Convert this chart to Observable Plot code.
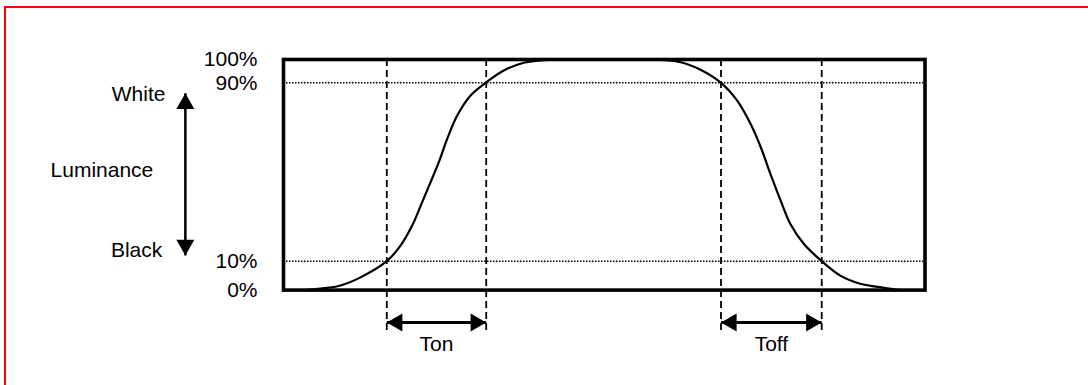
<!DOCTYPE html>
<html><head><meta charset="utf-8">
<script src="https://cdn.jsdelivr.net/npm/d3@7"></script>
<script src="https://cdn.jsdelivr.net/npm/@observablehq/plot@0.6"></script>
<style>
html,body{margin:0;padding:0;background:#fff;overflow:hidden;}
#wrap{position:relative;width:1088px;height:385px;}
#border{position:absolute;left:4px;top:6px;width:1200px;height:500px;border:2px solid #ff0000;box-sizing:border-box;pointer-events:none;z-index:2;}
#chart{position:absolute;left:0;top:0;}
</style></head>
<body><div id="wrap"><div id="chart"></div><div id="border"></div></div>
<script>
// Luminance response (time in arbitrary units, luminance in %)
const riseTime = [3.5, 5.8, 8.9, 12.0, 16.1, 18.24, 20.06, 21.62, 22.92, 24.21, 25.52, 27.08, 29.16, 31.5, 34.34, 37.46, 40.06, 43.2];
const riseLum  = [0, 0.5, 1.6, 4.4, 10, 17.0, 26.0, 36.5, 45.4, 54.4, 64.9, 75.3, 84.3, 90, 95.3, 98.6, 99.6, 100];
const fallTime = [57.2, 61.9, 65.0, 68.2, 70.7, 72.8, 74.4, 75.9, 77.5, 79.0, 81.1, 83.9, 86.8, 89.9, 93.6, 96.2];
const fallLum  = [100, 98.8, 95.6, 90, 82.1, 71.6, 61.1, 49.2, 37.2, 26.8, 17.8, 10, 5.0, 2.2, 0.8, 0];
const levels = [10, 90];
const yTicks = [0, 10, 90, 100];
const spanStart = [16.1, 68.2];
const spanEnd   = [31.6, 83.9];
const spanLabels = ["Ton", "Toff"];
const sideLabels = ["White", "Luminance", "Black"];

const rise = riseTime.map((t, i) => ({t, v: riseLum[i]}));
const fall = fallTime.map((t, i) => ({t, v: fallLum[i]}));
const spans = spanStart.map((a, i) => ({a, b: spanEnd[i], label: spanLabels[i]}));
const edges = spanStart.concat(spanEnd);

const FS = 21;
const HEAD_R = 8.6, HEAD_OFF = 10.4;
const chart = Plot.plot({
  width: 1088,
  height: 385,
  marginLeft: 283,
  marginRight: 163.5,
  marginTop: 59,
  marginBottom: 95.4,
  style: {fontFamily: "'Liberation Sans', Arial, sans-serif", fontSize: FS + "px", background: "white", color: "black"},
  x: {type: "linear", domain: [0, 100], axis: null},
  y: {type: "linear", domain: [0, 10, 90, 100], range: [289.6, 260.7, 82.3, 59], axis: null, label: null},
  marks: [
    Plot.ruleY(levels, {stroke: "black", strokeWidth: 1.4, strokeDasharray: "1.5,1.5"}),
    Plot.ruleX(edges, {y1: 100, y2: -14.1, stroke: "black", strokeWidth: 1.8, strokeDasharray: "7,4"}),
    Plot.line(rise, {x: "t", y: "v", curve: "catmull-rom", stroke: "black", strokeWidth: 2.2}),
    Plot.line(fall, {x: "t", y: "v", curve: "catmull-rom", stroke: "black", strokeWidth: 2.2}),
    Plot.frame({stroke: "black", strokeWidth: 3.6}),
    Plot.axisY(yTicks, {tickFormat: d => d + "%", tickSize: 0, tickPadding: 26, fontSize: FS, anchor: "left", label: null}),
    // Ton / Toff double arrows
    Plot.link(spans, {x1: "a", x2: "b", y1: -11.2, y2: -11.2, stroke: "black", strokeWidth: 3}),
    Plot.dot(spans, {x: "a", y: -11.2, symbol: "triangle2", r: HEAD_R, rotate: -90, dx: HEAD_OFF, fill: "black", stroke: null}),
    Plot.dot(spans, {x: "b", y: -11.2, symbol: "triangle2", r: HEAD_R, rotate: 90, dx: -HEAD_OFF, fill: "black", stroke: null}),
    Plot.text(spans, {x: d => (d.a + d.b) / 2, y: -18.75, text: "label", fontSize: FS, textAnchor: "middle"}),
    // Luminance vertical double arrow
    Plot.link([0], {x1: -15.3, x2: -15.3, y1: 12.6, y2: 85.3, stroke: "black", strokeWidth: 2.5}),
    Plot.dot([0], {x: -15.3, y: 85.3, symbol: "triangle2", r: HEAD_R, rotate: 0, dy: HEAD_OFF, fill: "black", stroke: null}),
    Plot.dot([0], {x: -15.3, y: 12.6, symbol: "triangle2", r: HEAD_R, rotate: 180, dy: -HEAD_OFF, fill: "black", stroke: null}),
    Plot.text([sideLabels[0]], {x: -18.4, y: 84.75, text: d => d, fontSize: FS, textAnchor: "end"}),
    Plot.text([sideLabels[1]], {x: -20.3, y: 50.7, text: d => d, fontSize: FS, textAnchor: "end"}),
    Plot.text([sideLabels[2]], {x: -18.9, y: 15.1, text: d => d, fontSize: FS, textAnchor: "end"})
  ]
});
document.getElementById("chart").appendChild(chart);
</script>
</body></html>
